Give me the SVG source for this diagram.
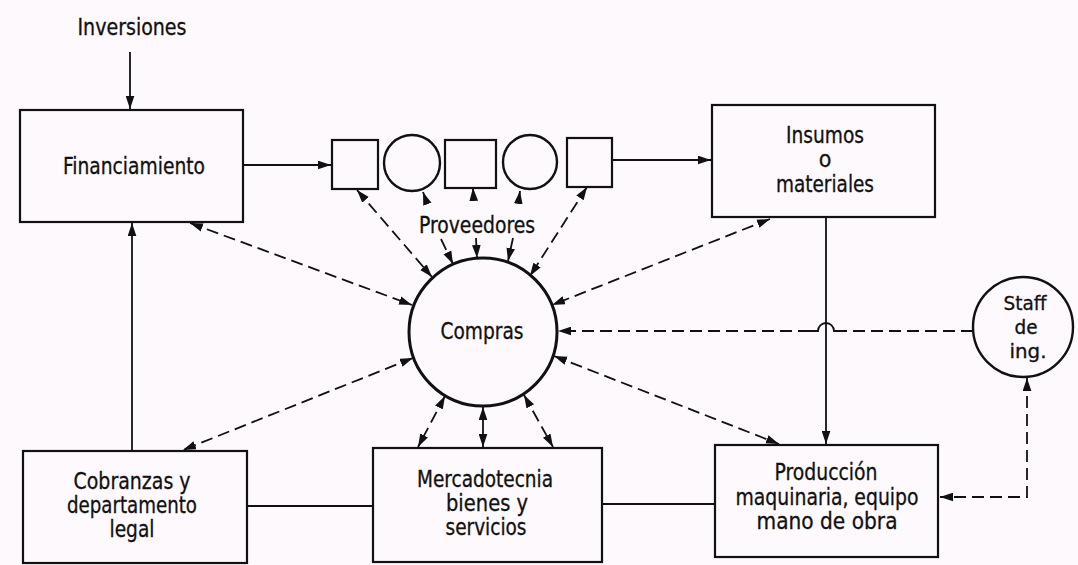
<svg xmlns="http://www.w3.org/2000/svg" width="1078" height="565" viewBox="0 0 1078 565">
  <defs>
    <marker id="ah" viewBox="0 0 12 8" refX="12" refY="4" markerWidth="13" markerHeight="9" orient="auto-start-reverse" markerUnits="userSpaceOnUse">
      <path d="M0,0 L12,4 L0,8 z" fill="#111"/>
    </marker>
  </defs>
  <style>
    .box { fill: none; stroke: #111; stroke-width: 2.2; }
    .ring { fill: none; stroke: #111; stroke-width: 2.4; }
    .hub { fill: none; stroke: #111; stroke-width: 3; }
    .lbl { font-family: "Liberation Sans Narrow", "DejaVu Sans Condensed", "Liberation Sans", sans-serif; font-size: 23px; fill: #111; stroke: #111; stroke-width: 0.3; text-anchor: middle; }
    .sm { font-size: 20px; }
    .solid { fill: none; stroke: #111; stroke-width: 1.8; }
    .dash { fill: none; stroke: #111; stroke-width: 1.8; stroke-dasharray: 12 6; }
    .one { marker-end: url(#ah); }
    .two { marker-start: url(#ah); marker-end: url(#ah); }
    .tail { marker-start: url(#ah); }
  </style>
  <rect width="1078" height="565" fill="#fdf9fd"/>

  <text class="lbl" x="132" y="35" textLength="109" lengthAdjust="spacingAndGlyphs">Inversiones</text>

  <g id="financiamiento">
    <rect class="box" x="20" y="110" width="223" height="112"/>
    <text class="lbl" x="134" y="174" textLength="142" lengthAdjust="spacingAndGlyphs">Financiamiento</text>
  </g>

  <g id="proveedores">
    <rect class="box" x="332" y="140" width="46" height="49"/>
    <circle class="ring" cx="412" cy="163" r="28"/>
    <rect class="box" x="445" y="140" width="51" height="48"/>
    <circle class="ring" cx="530" cy="162" r="27"/>
    <rect class="box" x="567" y="138" width="45" height="49"/>
    <text class="lbl" x="477" y="233" textLength="116" lengthAdjust="spacingAndGlyphs">Proveedores</text>
  </g>

  <g id="insumos">
    <rect class="box" x="712" y="105" width="223" height="112"/>
    <text class="lbl" x="825" y="143" textLength="78" lengthAdjust="spacingAndGlyphs">Insumos</text>
    <text class="lbl" x="825" y="167">o</text>
    <text class="lbl" x="825" y="192" textLength="98" lengthAdjust="spacingAndGlyphs">materiales</text>
  </g>

  <g id="compras">
    <circle class="hub" cx="483" cy="332" r="74"/>
    <text class="lbl" x="482" y="339" textLength="83" lengthAdjust="spacingAndGlyphs">Compras</text>
  </g>

  <g id="staff">
    <circle class="ring" cx="1023" cy="327" r="50"/>
    <text class="lbl sm" x="1025" y="310" textLength="43" lengthAdjust="spacingAndGlyphs">Staff</text>
    <text class="lbl sm" x="1026" y="334" textLength="23" lengthAdjust="spacingAndGlyphs">de</text>
    <text class="lbl sm" x="1028" y="358" textLength="37" lengthAdjust="spacingAndGlyphs">ing.</text>
  </g>

  <g id="cobranzas">
    <rect class="box" x="23" y="451" width="224" height="112"/>
    <text class="lbl" x="132" y="489" textLength="117" lengthAdjust="spacingAndGlyphs">Cobranzas y</text>
    <text class="lbl" x="132" y="513" textLength="130" lengthAdjust="spacingAndGlyphs">departamento</text>
    <text class="lbl" x="132" y="537" textLength="45" lengthAdjust="spacingAndGlyphs">legal</text>
  </g>

  <g id="mercadotecnia">
    <rect class="box" x="373" y="448" width="229" height="114"/>
    <text class="lbl" x="485" y="487" textLength="136" lengthAdjust="spacingAndGlyphs">Mercadotecnia</text>
    <text class="lbl" x="487" y="511" textLength="82" lengthAdjust="spacingAndGlyphs">bienes  y</text>
    <text class="lbl" x="486" y="535" textLength="81" lengthAdjust="spacingAndGlyphs">servicios</text>
  </g>

  <g id="produccion">
    <rect class="box" x="715" y="445" width="223" height="112"/>
    <text class="lbl" x="826" y="480" textLength="103" lengthAdjust="spacingAndGlyphs">Producción</text>
    <text class="lbl" x="827" y="505" textLength="183" lengthAdjust="spacingAndGlyphs">maquinaria, equipo</text>
    <text class="lbl" x="827" y="529" textLength="141" lengthAdjust="spacingAndGlyphs">mano  de  obra</text>
  </g>

  <g id="connectors">
    <!-- solid flows -->
    <path class="solid one" d="M130,52 V109"/>
    <path class="solid one" d="M243,165 H331"/>
    <path class="solid one" d="M612,160 H711"/>
    <path class="solid one" d="M826,217 V444"/>
    <path class="solid one" d="M132,451 V223"/>
    <path class="solid" d="M247,506 H373"/>
    <path class="solid" d="M602,504 H715"/>

    <!-- dashed two-way links around Compras -->
    <path class="dash two" d="M190,223 L412,305"/>
    <path class="dash two" d="M413,358 L183,450"/>
    <path class="dash two" d="M357,190 L432,277"/>
    <path class="dash tail" d="M423,192 L428,206"/>
    <path class="dash one" d="M441,239 L453,264"/>
    <path class="dash tail" d="M473,188 L474,206"/>
    <path class="dash one" d="M476,238 L477,258"/>
    <path class="dash tail" d="M520,191 L518,206"/>
    <path class="dash one" d="M513,238 L508,261"/>
    <path class="dash two" d="M587,187 L530,276"/>
    <path class="dash two" d="M770,219 L552,305"/>
    <path class="dash two" d="M554,356 L779,444"/>
    <path class="dash two" d="M445,396 L418,447"/>
    <path class="solid two" d="M483,407 V447"/>
    <path class="dash two" d="M524,395 L553,447"/>

    <!-- Staff de ing. links, hopping over the Insumos line -->
    <path class="dash" d="M973,331 H842"/>
    <path class="solid" d="M842,331 H834 A8,8 0 0 0 818,331 H810"/>
    <path class="dash one" d="M810,331 H558"/>
    <path class="dash two" d="M1027,378 V497 H940"/>
  </g>
</svg>
